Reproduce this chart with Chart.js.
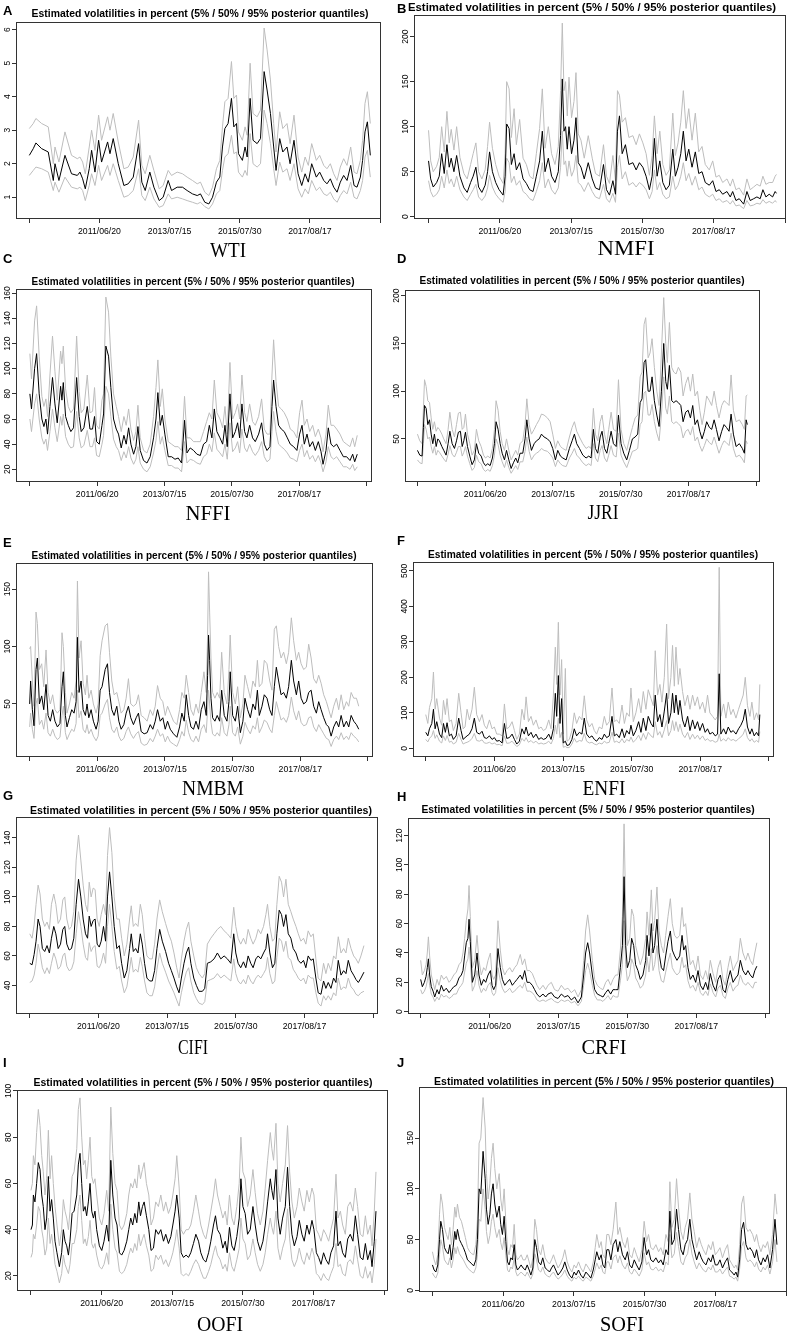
<!DOCTYPE html>
<html>
<head>
<meta charset="utf-8">
<title>Estimated volatilities</title>
<script src="https://cdn.jsdelivr.net/npm/chart.js@4.4.1/dist/chart.umd.min.js"></script>
<style>
  html, body { margin: 0; padding: 0; background: #fff; }
  body { position: relative; width: 793px; height: 1339px; overflow: hidden; }
  canvas { position: absolute; }
  .txt { position: absolute; white-space: nowrap; line-height: 1; color: #000; }
  .title { font: bold 10.5px "Liberation Sans", Arial, sans-serif; }
  .letter { font: bold 13px "Liberation Sans", Arial, sans-serif; }
  .name { font: 22px "Liberation Serif", "Times New Roman", serif; }
</style>
</head>
<body>
<script>
// x axis is the observation (trading day) index, labelled every 500 days
const tickDays = [0, 500, 1000, 1500, 2000, 2500];
const tickLabels = ['', '2011/06/20', '2013/07/15', '2015/07/30', '2017/08/17', ''];
const titleText = 'Estimated volatilities in percent (5% / 50% / 95% posterior quantiles)';

// A - WTI
const wtiDay = [0,28,47,88,135,171,183,211,254,301,342,361,380,399,427,444,468,494,515,558,575,598,634,674,705,741,779,802,826,859,888,926,954,990,1014,1054,1092,1125,1163,1197,1220,1251,1280,1306,1334,1358,1377,1394,1417,1441,1458,1477,1491,1519,1538,1553,1574,1595,1624,1648,1659,1674,1695,1719,1742,1759,1785,1807,1837,1859,1887,1916,1942,1966,1989,2013,2046,2070,2099,2122,2146,2170,2194,2217,2241,2265,2291,2315,2336,2360,2376,2393,2410,2431];
const wtiLow = [1.65,1.8,1.9,1.85,1.75,1.2,1.45,1.15,1.6,1.3,1.25,1.3,1.2,0.9,1.35,1.7,1.35,1.95,1.5,1.95,1.65,2.0,1.5,1.0,1.05,1.2,1.85,1.05,0.9,1.3,0.95,0.7,0.75,1.1,0.95,1.0,0.95,0.9,0.85,0.8,0.85,0.72,0.65,0.8,1.1,1.2,1.8,2.2,2.3,2.85,2.3,2.35,1.75,1.6,1.8,1.65,2.9,2.0,1.9,2.0,2.65,3.6,3.2,2.6,1.85,1.35,2.05,1.75,1.85,1.5,2.0,1.25,1.0,1.25,1.1,1.5,1.2,1.3,1.1,1.05,1.15,0.95,0.85,1.05,1.2,1.1,1.45,1.0,0.95,1.2,1.5,2.2,2.4,1.6];
const wtiMed = [2.25,2.45,2.62,2.45,2.35,1.5,2.0,1.5,2.25,1.7,1.65,1.75,1.55,1.25,1.85,2.4,1.75,2.7,2.05,2.65,2.3,2.75,2.0,1.35,1.4,1.6,2.6,1.45,1.2,1.75,1.3,0.9,1.0,1.5,1.2,1.3,1.3,1.2,1.1,1.05,1.1,0.85,0.8,1.0,1.45,1.6,2.5,3.05,3.2,3.95,3.1,3.2,2.3,2.1,2.5,2.2,3.95,2.7,2.6,2.75,3.6,4.75,4.2,3.5,2.5,1.8,2.75,2.35,2.5,2.0,2.7,1.7,1.35,1.7,1.45,2.0,1.6,1.75,1.5,1.4,1.55,1.3,1.15,1.45,1.65,1.5,1.95,1.35,1.3,1.6,2.1,2.95,3.25,2.25];
const wtiHigh = [3.05,3.2,3.35,3.2,3.1,2.0,2.5,2.05,2.95,2.25,2.15,2.2,2.05,1.7,2.5,3.0,2.4,3.45,2.7,3.4,3.0,3.5,2.65,1.85,1.9,2.2,3.3,1.95,1.7,2.25,1.8,1.25,1.35,1.8,1.65,1.75,1.7,1.6,1.5,1.4,1.45,1.15,1.05,1.3,1.85,2.1,3.1,3.85,3.95,5.05,3.95,4.05,2.95,2.7,3.1,2.85,5.0,3.5,3.4,3.6,4.6,6.05,5.4,4.5,3.2,2.35,3.55,3.05,3.2,2.6,3.45,2.2,1.75,2.2,1.95,2.6,2.1,2.25,1.95,1.85,2.0,1.7,1.5,1.9,2.15,1.95,2.5,1.75,1.7,2.1,2.7,3.8,4.15,3.2];
const wtiTicks = [1, 2, 3, 4, 5, 6];

// B - NMFI
const nmfiDay = [0,15,33,57,75,92,110,129,145,159,178,197,220,248,271,295,313,332,351,374,397,414,428,448,471,495,523,537,548,565,581,600,616,639,663,686,709,733,756,779,798,817,840,863,887,910,926,938,950,961,973,985,1003,1020,1034,1050,1069,1092,1120,1148,1171,1199,1227,1248,1269,1293,1311,1325,1339,1358,1381,1405,1433,1456,1479,1503,1526,1549,1568,1584,1603,1622,1643,1666,1689,1713,1731,1750,1769,1787,1806,1825,1848,1871,1895,1918,1941,1969,1993,2016,2039,2063,2093,2116,2133,2156,2179,2210,2233,2256,2280,2303,2326,2345,2366,2389,2413,2431,2440];
const nmfiLow = [40,28,22,25,30,45,32,52,37,42,33,45,30,22,18,25,30,36,22,18,23,32,46,33,25,20,16,28,65,60,38,45,35,40,28,25,20,18,28,40,60,32,42,30,25,32,55,95,58,62,45,62,45,52,68,38,35,28,38,28,22,20,36,20,16,26,16,55,68,42,50,35,38,33,38,35,30,20,28,52,30,38,25,20,22,45,30,35,45,60,40,48,35,45,30,33,25,22,25,18,20,16,18,14,18,12,13,9,18,12,13,15,14,19,15,17,15,18,16];
const nmfiMed = [62,42,33,38,45,70,48,80,55,65,50,68,45,32,27,38,45,55,33,27,35,50,72,50,38,30,24,45,103,98,58,70,52,60,42,37,30,28,45,62,95,50,65,45,38,50,90,153,95,100,75,100,70,85,110,60,55,42,60,42,32,30,58,30,24,40,25,95,112,70,80,58,60,52,60,55,45,30,45,87,45,62,38,30,35,75,45,55,70,95,62,75,55,72,48,50,38,35,40,28,30,25,28,22,28,18,20,14,28,18,20,22,20,30,22,25,22,28,26];
const nmfiHigh = [96,62,50,56,66,100,72,117,82,97,74,100,66,48,42,58,70,82,50,42,52,78,105,76,58,45,37,70,150,142,88,120,80,108,65,58,45,42,70,98,142,76,100,70,58,78,140,215,140,150,112,155,110,128,160,92,85,65,90,65,48,45,80,45,37,68,40,140,135,105,110,88,90,80,92,82,70,46,68,112,70,95,58,46,52,115,68,82,105,140,98,120,85,115,72,78,58,52,62,44,46,38,42,34,42,30,32,24,42,30,33,36,34,45,36,38,38,45,47];
const nmfiTicks = [0, 50, 100, 150, 200];

// C - NFFI
const nffiDay = [0,12,35,50,69,89,104,119,131,149,168,186,203,228,238,248,265,285,304,324,347,366,381,401,426,446,465,480,495,515,535,547,564,584,601,621,641,658,678,698,715,733,750,770,787,802,819,844,869,893,918,936,950,968,983,1002,1027,1052,1077,1101,1126,1148,1166,1190,1215,1240,1265,1289,1312,1332,1351,1369,1388,1411,1431,1448,1465,1485,1505,1525,1542,1557,1574,1594,1611,1631,1653,1673,1698,1720,1740,1760,1782,1797,1809,1827,1846,1866,1888,1911,1933,1958,1982,2002,2020,2037,2057,2077,2099,2119,2141,2161,2176,2198,2215,2235,2255,2277,2302,2327,2351,2376,2396,2411,2430];
const nffiLow = [60,50,72,80,60,45,40,44,35,50,68,53,42,62,55,64,46,40,37,38,66,45,37,39,51,38,38,45,31,30,40,47,86,80,62,44,38,35,27,34,29,38,29,24,28,38,25,20,18,22,33,43,58,40,46,35,23,23,21,21,18,42,25,28,27,25,24,30,32,40,34,49,36,33,30,40,28,57,34,37,42,33,52,37,34,40,34,31,35,42,30,26,28,50,66,50,40,38,36,33,29,28,26,35,40,30,35,28,31,26,31,25,18,26,38,30,28,30,26,22,22,20,24,19,22];
const nffiMed = [80,68,100,112,80,60,54,60,48,70,93,72,57,86,75,89,62,55,50,53,93,62,50,53,70,52,52,62,42,40,55,64,118,110,85,60,52,48,37,47,40,53,40,32,38,54,35,27,25,30,45,60,81,55,63,48,30,30,28,29,25,59,33,37,35,32,31,40,42,55,45,68,50,45,40,55,38,80,45,50,57,45,72,50,45,55,45,42,48,57,40,35,38,70,91,70,55,52,50,45,40,38,35,48,55,40,48,38,42,35,42,34,24,35,53,40,38,40,35,30,30,27,32,26,32];
const nffiHigh = [112,92,138,150,110,78,70,76,62,95,126,98,75,114,104,118,84,70,65,68,126,82,65,68,95,65,66,85,55,52,75,80,157,145,110,80,70,62,50,62,55,68,52,43,50,71,45,35,33,40,62,85,107,70,84,60,42,40,38,38,35,78,45,45,42,42,42,50,58,65,60,91,65,60,53,70,48,105,60,65,72,60,95,65,58,72,58,55,62,76,52,48,48,95,123,90,70,68,65,60,52,50,45,65,75,55,60,50,55,46,52,45,34,48,71,55,55,52,48,42,40,38,45,38,47];
const nffiTicks = [20, 40, 60, 80, 100, 120, 140, 160];

// D - JJRI
const jjriDay = [0,17,34,44,52,64,76,89,101,113,125,138,150,162,180,194,211,226,239,256,273,288,302,317,330,342,354,369,386,403,420,435,452,470,487,502,519,536,553,568,580,595,610,625,642,657,674,691,708,725,740,757,777,794,807,824,841,861,878,898,915,934,959,979,998,1018,1035,1055,1072,1097,1121,1141,1158,1175,1195,1220,1244,1264,1281,1298,1313,1330,1348,1362,1380,1397,1411,1429,1446,1466,1483,1502,1522,1544,1564,1586,1606,1625,1643,1657,1672,1684,1702,1716,1731,1748,1766,1783,1800,1817,1832,1844,1859,1876,1891,1908,1925,1943,1960,1979,1997,2014,2031,2048,2066,2083,2100,2117,2134,2154,2171,2189,2206,2225,2245,2262,2280,2299,2314,2331,2351,2375,2397,2412,2425,2434];
const jjriLow = [28,25,24,45,65,60,50,52,42,35,42,33,38,36,32,29,26,34,43,34,31,36,42,42,32,36,42,32,24,17,20,33,26,24,18,16,18,16,22,33,50,44,33,26,20,28,20,14,18,22,18,26,26,37,52,37,28,33,35,37,40,38,37,34,30,21,28,24,22,21,30,35,40,33,30,25,22,24,22,45,30,26,38,43,30,26,33,43,33,31,56,33,26,20,28,37,38,40,65,68,98,100,75,75,86,68,56,48,75,115,82,76,95,68,66,68,66,63,51,58,60,54,63,48,52,43,37,43,50,46,44,52,44,35,43,48,46,43,56,40,31,33,29,25,48,45];
const jjriMed = [38,33,32,62,85,82,65,70,55,45,55,42,50,48,42,38,33,45,58,45,40,48,57,58,42,48,57,42,32,23,28,45,35,32,25,22,24,22,30,45,68,60,45,35,28,38,28,19,25,30,25,35,35,50,70,50,38,45,48,50,55,52,50,47,40,28,38,32,30,28,40,48,55,45,40,33,30,32,30,60,40,35,52,58,40,35,45,58,45,42,75,45,35,28,38,50,52,55,88,92,130,133,100,100,115,90,75,63,100,150,110,102,127,90,88,90,88,85,68,78,80,72,85,65,70,58,50,58,68,62,60,70,60,48,58,65,62,58,76,55,42,45,40,35,70,65];
const jjriHigh = [55,48,45,82,112,105,90,88,72,60,68,58,62,60,55,50,45,60,78,60,52,65,77,78,60,62,76,55,45,33,38,60,48,42,33,30,32,30,40,60,90,80,58,45,38,50,38,28,33,38,33,45,48,65,92,65,55,60,65,70,76,75,72,68,55,40,48,42,40,38,52,62,68,58,52,45,40,42,40,82,55,48,68,75,55,45,60,78,60,58,112,60,45,38,50,62,72,75,115,120,170,177,135,140,155,125,100,85,140,198,150,130,172,125,120,118,125,120,95,108,115,100,118,95,100,80,65,78,95,90,85,100,85,72,85,90,88,85,117,80,68,70,65,60,95,96];
const jjriTicks = [50, 100, 150, 200];

// E - NMBM
const nmbmDay = [0,7,20,32,47,57,72,89,104,121,136,153,170,187,205,224,239,249,264,276,294,311,328,343,353,365,380,395,412,424,437,454,471,491,506,521,535,558,575,590,607,624,644,659,676,696,713,730,747,767,787,804,824,846,868,891,910,928,945,965,984,1002,1019,1039,1063,1088,1108,1125,1142,1157,1175,1192,1211,1229,1248,1268,1288,1305,1315,1322,1330,1340,1352,1369,1386,1404,1419,1438,1458,1473,1482,1500,1520,1537,1557,1576,1591,1611,1631,1650,1668,1683,1697,1717,1734,1754,1774,1791,1808,1823,1840,1858,1877,1897,1914,1934,1951,1971,1988,2006,2025,2045,2062,2080,2099,2119,2136,2154,2173,2193,2210,2228,2247,2267,2284,2302,2321,2341,2358,2376,2395,2415,2432];
const nmbmLow = [30,42,28,20,50,55,32,36,28,42,25,22,28,22,19,21,40,48,25,19,24,28,26,33,62,38,44,28,25,32,24,28,22,18,22,40,42,50,54,38,28,25,30,22,18,20,26,30,24,20,24,26,16,14,15,20,17,22,28,22,24,17,22,17,15,13,19,26,22,36,25,19,17,22,17,28,32,25,45,62,50,34,24,22,25,22,38,25,22,32,48,25,22,30,15,22,34,28,24,31,28,38,25,30,36,34,28,25,40,52,44,36,38,34,40,56,44,36,44,34,31,32,38,39,30,26,32,28,24,20,19,13,19,22,19,25,19,22,19,25,22,20,17];
const nmbmMed = [50,70,45,31,80,90,50,57,45,67,40,35,45,35,30,33,65,78,40,30,38,45,42,52,108,60,70,45,40,50,38,45,35,28,35,62,65,80,85,60,45,40,48,35,28,32,42,48,38,32,38,42,26,24,25,32,28,35,45,35,38,28,35,28,24,21,30,42,35,58,40,30,28,35,28,45,52,40,75,110,88,55,38,35,40,35,62,40,35,52,78,40,35,48,25,35,55,45,38,50,45,62,40,48,58,55,45,40,65,82,70,58,60,55,65,88,70,58,70,55,50,52,60,62,48,42,52,45,38,32,30,22,30,35,30,40,30,35,30,40,35,32,28];
const nmbmHigh = [98,100,70,48,130,120,80,85,65,97,60,50,58,45,42,45,112,100,60,42,50,60,55,70,157,90,105,68,58,75,55,62,50,42,50,92,105,118,120,95,70,58,60,52,42,45,55,72,50,48,50,58,40,38,35,45,40,48,66,55,52,40,48,42,35,32,45,60,55,75,60,45,40,50,42,60,78,60,110,165,130,90,60,55,60,55,95,60,50,80,110,60,50,65,38,50,75,65,55,70,65,88,65,68,88,85,70,62,115,118,100,90,95,85,95,125,105,88,95,85,80,82,102,90,72,68,75,68,58,52,45,38,48,55,45,58,45,52,48,60,55,55,48];
const nmbmTicks = [50, 100, 150];

// F - ENFI
const enfiDay = [0,15,27,44,56,68,80,100,116,129,143,155,172,187,201,221,240,257,272,286,301,318,337,354,371,391,410,427,444,464,483,500,517,536,556,573,590,609,629,646,663,682,701,718,731,748,767,784,803,823,840,857,876,896,913,930,944,954,966,978,990,1002,1017,1029,1046,1065,1082,1099,1119,1138,1155,1172,1192,1211,1228,1245,1264,1284,1301,1318,1337,1357,1374,1391,1410,1430,1447,1464,1483,1495,1512,1531,1551,1568,1585,1604,1621,1641,1658,1672,1689,1706,1721,1738,1755,1769,1786,1798,1811,1823,1840,1852,1871,1888,1908,1925,1944,1961,1980,1997,2017,2036,2053,2070,2090,2109,2126,2138,2150,2170,2187,2204,2223,2240,2260,2279,2296,2313,2328,2344,2362,2376,2393,2410,2425,2434];
const enfiLow = [25,18,28,35,50,28,38,20,15,35,22,36,17,20,12,17,42,25,12,15,17,20,28,42,22,20,24,15,14,17,12,15,10,11,7,35,14,15,20,12,5,10,28,20,30,17,22,15,20,12,15,12,14,20,12,28,65,40,85,30,45,3,5,2,2,12,28,17,22,20,42,20,15,17,12,10,15,12,20,15,17,45,17,20,15,27,15,25,20,32,17,25,37,22,42,25,45,35,30,75,37,47,30,52,78,35,50,78,50,75,47,68,40,30,45,25,40,27,37,25,35,22,27,20,22,17,20,40,20,27,20,30,22,25,20,27,32,40,55,30,20,27,17,22,17,47];
const enfiMed = [45,35,55,70,110,55,75,40,30,70,45,72,35,40,25,35,85,50,25,30,35,40,55,85,45,40,48,30,28,35,25,30,20,22,15,70,28,30,40,25,12,20,55,40,60,35,45,30,40,25,30,25,28,40,25,55,155,90,205,70,140,15,20,8,10,25,55,35,45,40,85,40,30,35,25,20,30,25,40,30,35,90,35,40,30,55,30,50,40,65,35,50,75,45,85,50,90,70,60,150,75,95,60,105,155,70,100,155,100,150,95,135,80,60,90,50,80,55,75,50,70,45,55,40,45,35,40,210,40,55,40,60,45,50,40,55,65,80,110,60,40,55,35,45,35,95];
const enfiHigh = [95,70,115,140,215,110,140,85,65,135,95,140,75,80,50,70,155,100,55,60,110,80,110,172,95,75,95,65,55,80,55,60,40,40,35,125,55,60,75,50,25,40,110,80,145,75,90,65,80,55,60,50,55,80,55,150,285,180,355,150,250,40,225,20,25,50,100,70,90,80,148,80,60,70,50,40,60,55,90,65,75,170,75,80,70,122,70,100,90,170,75,100,140,100,160,110,165,140,120,275,150,180,130,200,350,140,200,290,175,285,180,225,160,120,150,110,150,120,145,110,130,100,150,100,90,80,90,510,90,125,85,130,95,110,85,110,130,150,200,120,90,130,80,100,80,180];
const enfiTicks = [0, 100, 200, 300, 400, 500];

// G - CIFI
const cifiDay = [0,17,32,46,61,75,92,109,126,143,158,175,190,207,224,241,255,270,287,304,321,338,355,372,389,406,421,433,447,462,476,491,506,520,537,552,566,581,598,615,634,652,669,688,707,727,739,754,771,788,805,819,836,853,873,892,909,926,946,965,989,1011,1031,1050,1070,1087,1104,1123,1140,1157,1173,1194,1213,1232,1257,1274,1293,1318,1342,1366,1391,1415,1439,1464,1485,1500,1517,1536,1556,1573,1590,1609,1626,1646,1663,1682,1702,1719,1731,1748,1767,1784,1799,1816,1833,1848,1865,1882,1901,1918,1938,1955,1974,1993,2010,2027,2047,2064,2083,2100,2120,2139,2156,2173,2193,2212,2229,2246,2266,2285,2302,2319,2339,2358,2375,2392,2411,2433];
const cifiLow = [42,43,47,55,68,62,52,48,52,48,55,62,58,51,53,60,62,53,50,51,56,75,90,80,68,59,57,69,63,66,67,53,52,55,62,55,80,95,80,63,51,53,43,35,39,51,59,49,51,49,59,53,43,35,33,33,39,51,62,55,49,43,39,35,30,26,35,43,49,52,43,35,31,28,27,29,43,44,45,48,45,47,45,43,58,48,43,41,44,41,47,43,41,45,47,45,48,51,59,48,41,43,59,72,70,63,70,59,57,51,48,45,43,45,41,47,45,45,35,28,26,33,30,33,30,35,33,45,37,39,38,45,39,37,34,33,35,36];
const cifiMed = [55,54,61,70,85,80,65,63,67,62,72,80,75,65,68,78,80,68,64,65,72,95,112,100,85,75,72,87,80,84,85,68,66,70,80,70,100,117,100,80,65,67,55,45,50,65,75,63,65,62,75,68,55,45,43,43,50,65,78,70,63,55,50,45,39,35,45,55,62,66,55,45,40,36,36,38,55,56,58,62,58,60,58,55,75,62,55,52,56,52,60,55,52,58,60,58,62,65,75,62,52,55,75,91,88,80,88,75,72,65,62,57,55,57,52,60,57,58,45,35,34,43,38,42,38,45,42,57,47,50,48,57,50,47,44,42,45,49];
const cifiHigh = [75,72,81,95,108,102,85,80,83,78,95,102,95,82,85,98,100,85,78,80,90,125,142,125,108,95,90,110,100,106,105,85,80,88,95,88,128,147,130,100,85,85,72,60,68,85,94,80,82,80,95,88,72,60,58,58,68,85,98,90,82,75,70,62,52,45,58,70,78,83,70,60,52,48,45,48,68,72,75,78,80,77,75,72,93,80,72,68,72,68,78,72,68,72,78,75,80,88,95,80,70,72,95,114,110,100,112,95,90,85,80,75,70,72,68,77,73,75,58,45,43,55,48,55,50,60,58,73,62,65,62,72,65,60,58,55,60,67];
const cifiTicks = [40, 60, 80, 100, 120, 140];

// H - CRFI
const crfiDay = [0,12,27,39,48,56,65,77,90,102,119,133,150,167,186,206,223,240,259,278,295,307,319,331,343,351,360,375,392,409,423,440,457,472,489,506,518,530,544,561,578,593,610,627,646,665,682,699,723,738,755,772,791,810,827,844,864,888,907,924,948,972,997,1021,1045,1069,1093,1118,1142,1166,1183,1197,1212,1226,1246,1263,1282,1304,1323,1343,1360,1379,1396,1415,1432,1449,1464,1476,1488,1500,1517,1531,1546,1560,1577,1594,1613,1633,1643,1657,1674,1686,1698,1715,1730,1747,1763,1778,1795,1812,1826,1843,1860,1880,1897,1909,1923,1940,1957,1976,1996,2013,2030,2049,2068,2085,2102,2122,2141,2158,2175,2194,2211,2230,2247,2267,2286,2303,2320,2339,2359,2375,2392,2410,2425,2440];
const crfiLow = [15,12,14,17,21,26,18,12,10,7,10,8,12,10,11,9,10,12,12,16,18,20,27,33,36,44,34,14,18,28,18,13,16,14,18,20,13,11,13,30,21,16,13,14,16,13,14,16,18,16,20,14,14,13,11,8,7,8,7,8,9,7,6,8,7,8,6,7,4,7,18,28,33,28,18,11,8,8,7,9,11,8,11,10,10,21,32,62,32,21,25,36,32,23,20,16,18,25,37,27,43,28,32,45,28,21,20,27,34,40,30,27,25,27,37,30,32,21,16,18,14,20,13,11,14,11,19,13,10,16,18,11,9,16,20,14,17,18,25,20,18,20,18,16,20,20];
const crfiMed = [22,17,20,24,30,36,25,17,14,10,15,12,18,14,16,13,15,17,18,23,25,28,38,47,50,63,48,20,25,40,25,18,22,20,25,28,18,15,18,43,30,22,18,20,22,18,20,22,25,22,28,20,20,18,15,12,10,12,10,12,13,10,9,12,10,11,8,10,6,10,25,40,47,40,25,15,12,11,10,13,15,12,15,15,15,30,45,92,45,30,35,50,45,32,28,22,25,35,52,38,60,40,45,63,40,30,28,38,48,55,42,38,35,38,52,42,45,30,22,25,20,28,18,15,20,15,26,18,14,22,25,15,13,22,28,20,23,25,35,28,25,28,25,23,28,31];
const crfiHigh = [35,25,28,32,40,51,38,25,20,15,22,18,25,22,24,20,22,25,27,32,34,40,50,62,70,86,65,30,35,52,35,25,30,28,35,40,25,22,25,62,42,30,25,28,30,27,30,32,39,32,36,28,28,26,22,18,15,18,15,18,20,15,14,18,15,16,13,15,10,15,35,55,66,55,35,22,18,16,15,20,22,18,22,25,25,42,65,128,70,45,50,70,65,45,38,32,38,50,68,52,83,55,62,85,55,45,40,52,65,77,60,52,50,52,71,58,60,45,32,35,28,38,25,22,28,22,35,26,20,30,35,22,18,30,38,28,32,35,50,40,35,40,35,32,40,47];
const crfiTicks = [0, 20, 40, 60, 80, 100, 120];

// I - OOFI
const oofiDay = [0,10,17,28,40,52,64,76,87,99,111,123,135,146,158,170,184,201,217,229,241,253,265,276,291,305,324,335,347,359,371,383,394,406,418,430,442,453,465,484,501,517,536,550,565,579,595,609,626,642,659,678,692,706,720,735,749,763,775,789,801,817,834,850,867,883,902,919,938,954,973,990,1004,1020,1032,1049,1063,1079,1098,1115,1131,1150,1167,1186,1202,1221,1238,1257,1273,1292,1306,1320,1339,1358,1375,1389,1405,1422,1438,1457,1474,1486,1500,1516,1533,1552,1571,1587,1604,1623,1642,1658,1675,1694,1705,1717,1734,1748,1764,1781,1800,1816,1831,1847,1864,1883,1899,1918,1934,1953,1970,1989,2003,2020,2036,2053,2071,2088,2107,2123,2142,2159,2173,2190,2206,2225,2242,2260,2279,2296,2312,2331,2350,2367,2383,2402,2414,2430,2442];
const oofiLow = [28,30,38,36,42,50,48,40,36,29,32,45,34,38,32,25,22,17,21,29,25,23,21,25,34,34,40,50,55,44,34,36,33,37,44,34,32,34,29,24,23,25,30,25,51,40,32,30,22,21,22,25,29,32,30,34,31,38,33,36,38,33,29,22,23,29,27,29,25,27,24,27,30,35,40,32,21,20,21,20,22,25,27,25,22,19,19,22,25,30,33,29,27,23,25,22,30,24,22,27,32,45,36,34,27,29,36,30,25,22,25,30,38,45,41,38,48,32,27,32,36,49,36,27,24,27,32,27,25,30,27,32,29,21,20,18,21,19,18,21,24,34,24,25,21,20,26,27,25,33,27,20,19,24,19,22,17,25,36];
const oofiMed = [40,42,55,52,60,69,66,55,50,40,45,63,48,53,45,35,30,24,30,40,35,33,29,35,47,48,55,68,73,60,48,50,46,52,60,48,45,48,40,33,31,35,42,35,70,55,45,42,30,29,31,35,40,45,42,47,43,52,46,50,52,46,40,31,32,40,38,40,35,38,34,37,42,48,55,45,30,28,29,28,30,34,38,35,30,27,26,30,35,42,46,40,38,32,35,30,41,33,31,37,45,62,50,47,38,40,50,42,35,31,35,42,52,62,57,53,66,45,38,45,50,67,50,38,33,37,44,38,35,42,38,44,40,30,28,25,30,27,25,30,33,48,33,35,30,28,36,38,35,46,38,28,27,34,27,31,24,35,48];
const oofiHigh = [57,60,72,68,82,92,85,72,65,55,62,83,62,72,60,50,42,33,40,53,48,45,40,48,63,65,75,92,97,80,68,70,62,70,80,63,60,62,55,45,42,47,57,48,93,73,60,57,42,40,42,47,55,60,58,62,58,68,62,66,69,60,55,42,45,52,50,55,48,52,47,50,55,62,72,58,40,38,40,40,42,48,55,48,42,38,36,42,48,55,62,55,50,45,48,42,55,45,42,50,60,80,65,62,50,55,66,56,47,42,48,58,70,82,75,70,86,60,52,60,68,85,65,52,45,50,58,52,48,57,52,58,55,40,38,35,40,38,35,40,45,64,45,48,42,38,50,52,48,58,50,38,37,46,38,42,33,48,65];
const oofiTicks = [20, 40, 60, 80, 100];

// J - SOFI
const sofiDay = [0,12,24,38,50,59,71,85,99,111,123,134,146,158,167,177,191,205,219,233,248,264,278,292,307,318,330,342,358,373,382,394,406,417,429,441,455,472,483,495,507,519,531,542,554,566,578,590,601,613,627,641,656,670,684,696,710,724,736,750,766,780,797,814,828,842,856,872,888,905,922,936,953,969,986,1002,1016,1033,1049,1066,1085,1104,1120,1137,1151,1162,1179,1193,1205,1219,1233,1247,1262,1278,1297,1311,1325,1344,1363,1379,1394,1410,1427,1443,1462,1481,1497,1514,1528,1544,1561,1580,1599,1615,1632,1651,1667,1679,1693,1710,1726,1740,1757,1773,1787,1804,1820,1835,1851,1868,1886,1901,1915,1934,1952,1969,1983,2000,2016,2033,2051,2070,2087,2101,2117,2134,2146,2158,2172,2186,2200,2217,2231,2245,2264,2278,2292,2306,2323,2339,2353,2370,2386,2405,2422,2436];
const sofiLow = [17,14,12,17,35,50,43,30,27,25,32,22,30,42,36,43,36,33,30,26,22,20,18,17,22,35,70,68,100,80,58,46,54,68,75,62,52,60,47,40,52,34,20,18,23,21,32,18,14,16,18,16,14,18,14,11,16,36,30,20,18,23,16,14,13,16,18,14,11,13,16,20,14,11,9,13,11,14,11,9,13,11,9,14,21,27,21,25,18,16,28,28,21,32,35,27,34,25,21,27,18,16,21,18,14,20,37,25,28,21,20,23,19,21,18,28,25,55,32,36,57,43,28,25,32,36,50,36,28,21,27,23,20,18,23,20,25,18,18,21,16,20,23,14,13,11,13,9,21,43,48,32,28,30,27,23,28,21,18,23,20,25,16,28,50,28];
const sofiMed = [25,20,18,25,50,68,60,42,38,36,45,30,42,58,50,60,50,46,42,37,30,28,26,24,30,50,100,95,137,110,80,65,75,95,105,85,72,83,65,55,73,48,28,25,32,30,45,25,20,22,25,22,20,25,20,15,22,50,42,28,25,32,22,20,18,22,25,20,15,18,22,28,20,15,12,18,15,20,15,12,18,15,12,20,30,38,30,35,25,22,40,40,30,45,50,38,48,35,30,38,25,22,30,25,20,28,52,35,40,30,28,32,27,30,25,40,35,78,45,50,80,60,40,35,45,50,70,50,40,30,38,32,28,25,32,28,35,25,25,30,22,28,32,20,18,15,18,13,30,60,67,45,40,42,38,32,40,30,25,32,28,35,22,40,70,45];
const sofiHigh = [38,30,25,35,75,95,85,62,55,50,62,45,60,82,72,85,72,68,60,52,42,38,36,35,45,70,145,150,190,160,115,90,105,130,145,120,100,115,90,78,100,68,40,35,45,42,65,35,30,32,35,30,30,35,28,22,32,70,60,40,35,45,32,28,26,30,35,28,22,26,32,40,28,22,18,25,22,28,22,18,26,22,18,28,42,55,42,48,35,32,55,55,45,60,87,55,62,48,42,52,35,32,42,35,28,40,68,48,55,42,40,45,38,42,35,55,48,107,62,70,110,82,58,50,62,70,96,70,58,42,52,45,40,35,45,40,48,35,38,42,32,40,45,30,26,22,25,20,45,85,93,62,58,60,55,48,55,45,38,45,42,48,35,55,95,75];
const sofiTicks = [0, 50, 100, 150];

// page layout: plot box [left, top, right, bottom] in page pixels, axis ranges,
// title / series name as [centre x, centre y, width], panel letter as [left, centre y]
const panels = [
  { letter: 'A', name: 'WTI',  day: wtiDay,  low: wtiLow,  med: wtiMed,  high: wtiHigh,  yTicks: wtiTicks,
    box: [16, 22, 380, 218],   x: [-95, 2500],  y: [0.38, 6.23],  title: [200, 12.5, 337],  label: [228, 250, 36],  tag: [3, 10] },
  { letter: 'B', name: 'NMFI', day: nmfiDay, low: nmfiLow, med: nmfiMed, high: nmfiHigh, yTicks: nmfiTicks,
    box: [414, 15, 785, 218],  x: [-102, 2500], y: [-1.4, 224],   title: [592, 6.7, 368],   label: [626, 248, 57],  tag: [397, 8] },
  { letter: 'C', name: 'NFFI', day: nffiDay, low: nffiLow, med: nffiMed, high: nffiHigh, yTicks: nffiTicks,
    box: [16, 289, 371, 481],  x: [-103, 2532], y: [10.7, 163.4], title: [193.3, 281, 323], label: [207.5, 513, 45], tag: [3, 258] },
  { letter: 'D', name: 'JJRI', day: jjriDay, low: jjriLow, med: jjriMed, high: jjriHigh, yTicks: jjriTicks,
    box: [405, 290, 759, 481], x: [-92, 2520],  y: [5.9, 206],    title: [582, 280, 325],   label: [603, 512, 31],  tag: [397, 258] },
  { letter: 'E', name: 'NMBM', day: nmbmDay, low: nmbmLow, med: nmbmMed, high: nmbmHigh, yTicks: nmbmTicks,
    box: [16, 563, 372, 756],  x: [-101, 2530], y: [4.7, 172.7],  title: [194, 555, 325],   label: [212.5, 788, 62], tag: [3, 542] },
  { letter: 'F', name: 'ENFI', day: enfiDay, low: enfiLow, med: enfiMed, high: enfiHigh, yTicks: enfiTicks,
    box: [413, 562, 773, 756], x: [-93, 2530],  y: [-21.7, 525],  title: [592.7, 554, 330], label: [604.3, 788, 43], tag: [397, 540] },
  { letter: 'G', name: 'CIFI', day: cifiDay, low: cifiLow, med: cifiMed, high: cifiHigh, yTicks: cifiTicks,
    box: [16, 817, 377, 1013], x: [-100, 2528], y: [21.3, 154.2], title: [200.8, 810, 342], label: [193.3, 1047, 30], tag: [3, 795] },
  { letter: 'H', name: 'CRFI', day: crfiDay, low: crfiLow, med: crfiMed, high: crfiHigh, yTicks: crfiTicks,
    box: [408, 818, 769, 1013], x: [-92, 2528], y: [-0.9, 132],   title: [587.7, 809.3, 333], label: [603.5, 1047, 45], tag: [397, 796] },
  { letter: 'I', name: 'OOFI', day: oofiDay, low: oofiLow, med: oofiMed, high: oofiHigh, yTicks: oofiTicks,
    box: [17, 1090, 387, 1290], x: [-99, 2520], y: [13.9, 100.4], title: [203, 1081.7, 339], label: [219.7, 1324, 46], tag: [3, 1062] },
  { letter: 'J', name: 'SOFI', day: sofiDay, low: sofiLow, med: sofiMed, high: sofiHigh, yTicks: sofiTicks,
    box: [419, 1087, 786, 1291], x: [-95, 2500], y: [-0.7, 200.4], title: [604.3, 1081.3, 340], label: [622.2, 1324, 44], tag: [397, 1062] }
];

const AXIS_W = 20;   // room left of the box for y ticks + rotated labels
const AXIS_H = 24;   // room under the box for x ticks + labels
const PAD_TOP = 10;  // room above the box so the top y label is not cut
const PAD = 3;

Chart.defaults.font.family = '"Liberation Sans", Arial, sans-serif';
Chart.defaults.color = '#000';

function toPoints(days, vals) {
  const n = Math.min(days.length, vals.length);
  const out = [];
  for (let i = 0; i < n; i++) out.push({ x: days[i], y: vals[i] });
  return out;
}

// R style frame round the plot + y labels reading bottom to top
function makeFrame(p) {
  return {
    id: 'frame' + p.letter,
    afterDraw(chart) {
      const ctx = chart.ctx, a = chart.chartArea, ys = chart.scales.y;
      ctx.save();
      ctx.strokeStyle = '#333';
      ctx.lineWidth = 1;
      ctx.strokeRect(Math.round(a.left) + 0.5, Math.round(a.top) + 0.5,
                     Math.round(a.right - a.left), Math.round(a.bottom - a.top));
      ctx.fillStyle = '#000';
      ctx.font = '8.5px "Liberation Sans", Arial, sans-serif';
      ctx.textAlign = 'center';
      ctx.textBaseline = 'alphabetic';
      p.yTicks.forEach(v => {
        ctx.save();
        ctx.translate(a.left - 6, ys.getPixelForValue(v));
        ctx.rotate(-Math.PI / 2);
        ctx.fillText(String(v), 0, 0);
        ctx.restore();
      });
      ctx.restore();
    }
  };
}

function addText(cls, text, cx, cy, w) {
  const el = document.createElement('div');
  el.className = 'txt ' + cls;
  el.textContent = text;
  document.body.appendChild(el);
  const k = w ? w / el.getBoundingClientRect().width : 1;
  el.style.left = cx + 'px';
  el.style.top = cy + 'px';
  el.style.transform = 'translate(-50%, -50%) scaleX(' + k.toFixed(3) + ')';
}

function addTag(text, x, cy) {
  const el = document.createElement('div');
  el.className = 'txt letter';
  el.textContent = text;
  el.style.left = x + 'px';
  el.style.top = cy + 'px';
  el.style.transform = 'translateY(-50%)';
  document.body.appendChild(el);
}

panels.forEach(p => {
  const [l, t, r, b] = p.box;
  const canvas = document.createElement('canvas');
  const w = r - l + AXIS_W + PAD;
  const h = b - t + AXIS_H + PAD_TOP;
  canvas.width = w;
  canvas.height = h;
  canvas.style.left = (l - AXIS_W) + 'px';
  canvas.style.top = (t - PAD_TOP) + 'px';
  canvas.style.width = w + 'px';
  canvas.style.height = h + 'px';
  document.body.appendChild(canvas);

  new Chart(canvas, {
    type: 'line',
    data: {
      datasets: [
        { label: '50%', data: toPoints(p.day, p.med),  borderColor: '#000',    borderWidth: 1 },
        { label: '95%', data: toPoints(p.day, p.high), borderColor: '#bdbdbd', borderWidth: 1 },
        { label: '5%',  data: toPoints(p.day, p.low),  borderColor: '#bdbdbd', borderWidth: 1 }
      ]
    },
    options: {
      responsive: false,
      animation: false,
      devicePixelRatio: 1,
      elements: { point: { radius: 0 }, line: { tension: 0 } },
      layout: { padding: { left: 0, top: PAD_TOP, right: PAD, bottom: 0 } },
      plugins: { legend: { display: false }, tooltip: { enabled: false } },
      scales: {
        x: {
          type: 'linear',
          min: p.x[0], max: p.x[1],
          bounds: 'data',
          afterBuildTicks: s => { s.ticks = tickDays.map(v => ({ value: v })); },
          afterFit: s => { s.height = AXIS_H; },
          border: { display: false },
          grid: { drawOnChartArea: false, color: '#333', tickLength: 5 },
          ticks: {
            autoSkip: false, maxRotation: 0, minRotation: 0, padding: 3,
            font: { size: 8.7 }, color: '#000',
            callback: (v, i) => tickLabels[i]
          }
        },
        y: {
          type: 'linear',
          min: p.y[0], max: p.y[1],
          bounds: 'data',
          afterBuildTicks: s => { s.ticks = p.yTicks.map(v => ({ value: v })); },
          afterFit: s => { s.width = AXIS_W; },
          border: { display: false },
          grid: { drawOnChartArea: false, color: '#333', tickLength: 4 },
          ticks: { display: false }
        }
      }
    },
    plugins: [makeFrame(p)]
  });

  addText('title', titleText, p.title[0], p.title[1], p.title[2]);
  addText('name', p.name, p.label[0], p.label[1], p.label[2]);
  addTag(p.letter, p.tag[0], p.tag[1]);
});
</script>
</body>
</html>
